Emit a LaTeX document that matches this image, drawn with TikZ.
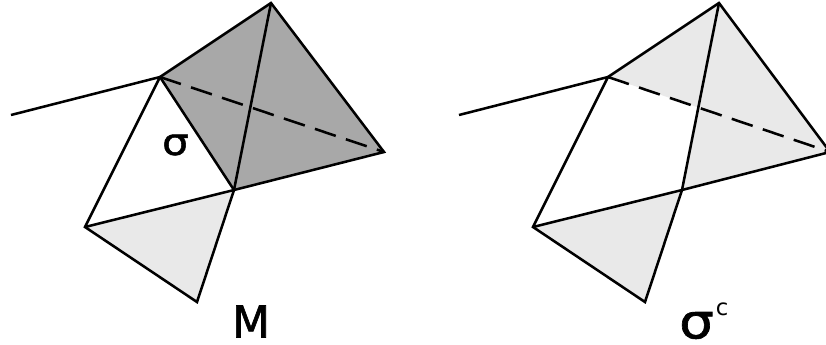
\documentclass[tikz,border=0pt]{standalone}
\usepackage{fontspec}
\setmainfont{DejaVu Sans}
\newfontfamily\heavyface[FakeBold=1.4]{DejaVu Sans}
\newfontfamily\wideface[FakeBold=1.4,FakeStretch=1.14]{DejaVu Sans}
\tikzset{
  edge/.style={draw=black,line width=1.9pt,line join=miter,line cap=butt},
  dashedge/.style={edge,dash pattern=on 16.5pt off 8pt},
  lightfill/.style={fill=lightface},
  darkfill/.style={fill=darkface},
  lab/.style={inner sep=0pt,text=black}
}
\definecolor{lightface}{gray}{0.915}
\definecolor{darkface}{gray}{0.66}
\begin{document}
\begin{tikzpicture}[x=0.75pt,y=-0.75pt]
\useasboundingbox (0,0) rectangle (826,344);
% left figure
\coordinate (a) at (11,115);
\coordinate (b) at (160,77);
\coordinate (t) at (271,3);
\coordinate (r) at (384,152);
\coordinate (c) at (234,190);
\coordinate (d) at (85,227);
\coordinate (e) at (197,302);
\fill[darkfill] (b) -- (t) -- (r) -- (c) -- cycle;
\fill[lightfill] (d) -- (c) -- (e) -- cycle;
\draw[edge] (a) -- (b) -- (d) -- (e) -- (c) -- (t);
\draw[edge] (b) -- (t) -- (r) -- (c) -- (d);
\draw[edge] (b) -- (c);
\draw[dashedge] (b) -- (r);
\node[lab,font=\wideface\fontsize{28}{28}\selectfont] (sig) at (175.5,145) {σ};
\node[lab,font=\heavyface\fontsize{33}{33}\selectfont] (m) at (251,321.5) {M};
% right figure
\coordinate (a2) at (459,115);
\coordinate (b2) at (608,77);
\coordinate (t2) at (719,3);
\coordinate (r2) at (830,152);
\coordinate (c2) at (682,190);
\coordinate (d2) at (533,227);
\coordinate (e2) at (645,302);
\fill[lightfill] (t2) -- (r2) -- (c2) -- cycle;
\fill[lightfill] (b2) -- (t2) -- (r2) -- cycle;
\fill[lightfill] (d2) -- (c2) -- (e2) -- cycle;
\draw[edge] (a2) -- (b2) -- (d2) -- (e2) -- (c2) -- (t2);
\draw[edge] (b2) -- (t2) -- (r2) -- (c2) -- (d2);
\draw[dashedge] (b2) -- (r2);
\node[lab,font=\wideface\fontsize{36}{36}\selectfont] (sig2) at (696.5,325.5) {σ};
\node[lab,font=\fontsize{17}{17}\selectfont] (sup) at (722,309.5) {c};
\end{tikzpicture}
\end{document}
